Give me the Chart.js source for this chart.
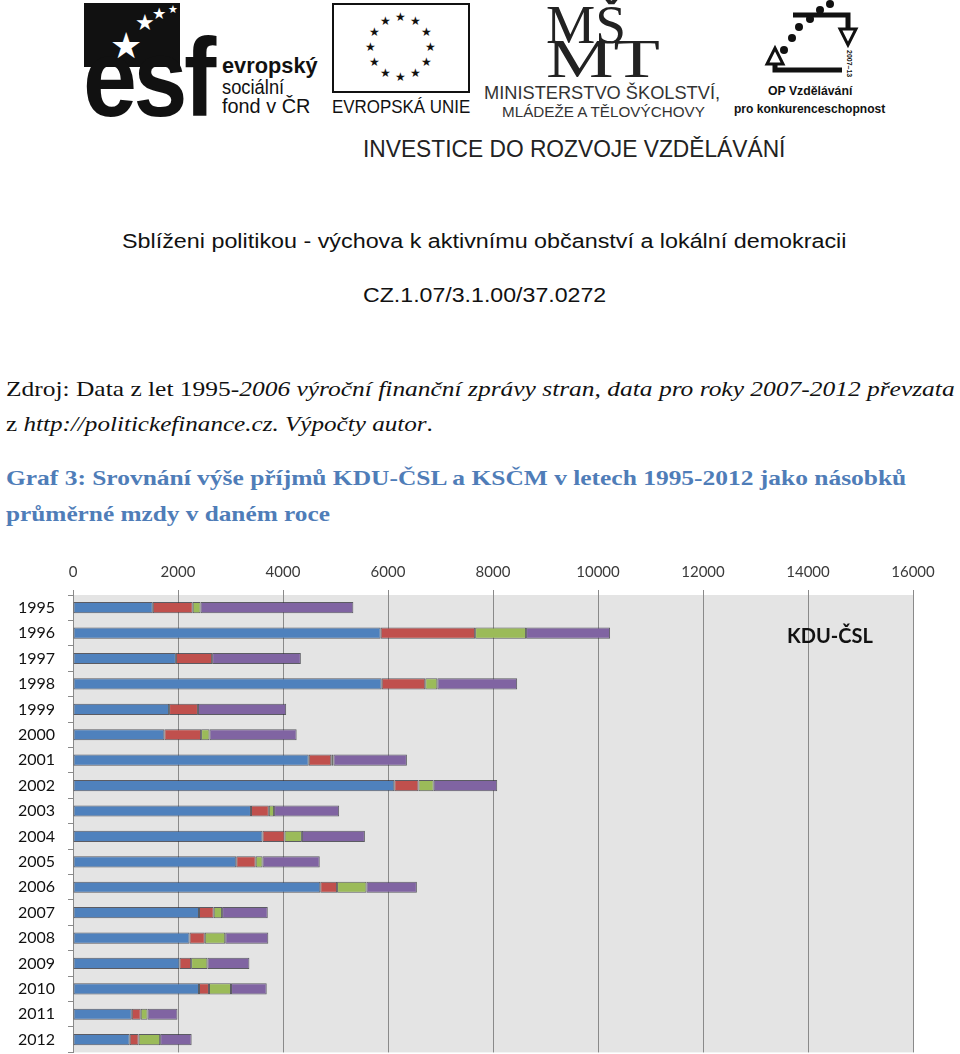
<!DOCTYPE html>
<html>
<head>
<meta charset="utf-8">
<script src="https://cdn.jsdelivr.net/npm/chart.js@4"></script>
<style>
  body { margin: 0; background: #fff; width: 960px; height: 1054px; position: relative; overflow: hidden; }
  .t { position: absolute; white-space: nowrap; display: inline-block; transform-origin: left top; line-height: 1; }
  .sans { font-family: "Liberation Sans", Arial, sans-serif; }
  .serif { font-family: "Liberation Serif", "Times New Roman", serif; }
  .blk { position: absolute; background: #111; }
  #chartBox { position: absolute; left: 0; top: 555px; width: 960px; height: 520px; }
  #kdu { position: absolute; left: 787px; top: 623px; font: bold 20px Lato, sans-serif; color: #111; }
</style>
</head>
<body>

<!-- header logos (rough) -->
<div class="blk" style="left:84px;top:3px;width:96px;height:64px"></div>
<div class="t sans" data-w="130" style="left:83px;top:22px;font-size:112px;font-weight:bold;color:#111;letter-spacing:-4px">esf</div>
<div class="t" style="left:110px;top:28px;font-size:36px;color:#fff">★</div>
<div class="t" style="left:135px;top:12px;font-size:22px;color:#fff">★</div>
<div class="t" style="left:152px;top:6px;font-size:16px;color:#fff">★</div>
<div class="t" style="left:168px;top:4px;font-size:11px;color:#fff">★</div>
<div class="t sans" data-w="96" style="left:222px;top:55px;font-size:22px;font-weight:bold;color:#111">evropský</div>
<div class="t sans" data-w="62" style="left:222px;top:76px;font-size:21px;color:#111">sociální</div>
<div class="t sans" data-w="88" style="left:222px;top:95px;font-size:21px;color:#111">fond v ČR</div>

<div style="position:absolute;left:332px;top:3px;width:134px;height:86px;border:2px solid #111"></div>
<div id="euStars"></div>
<div class="t sans" data-w="138" style="left:332px;top:97px;font-size:19px;color:#111">EVROPSKÁ UNIE</div>

<div class="t serif" data-w="80" style="left:546px;top:-2px;font-size:54px;color:#222">MŠ</div>
<div class="t serif" data-w="114" style="left:546px;top:32px;font-size:54px;color:#222">MT</div>
<div class="t sans" data-w="236" style="left:484px;top:84px;font-size:18px;color:#333">MINISTERSTVO ŠKOLSTVÍ,</div>
<div class="t sans" data-w="203" style="left:502px;top:104px;font-size:15px;color:#333">MLÁDEŽE A TĚLOVÝCHOVY</div>

<svg style="position:absolute;left:760px;top:0" width="110" height="85">
  <polyline points="33,15 88,15 88,28" fill="none" stroke="#111" stroke-width="5"/>
  <polygon points="80,29 96,29 88,45" fill="#fff" stroke="#111" stroke-width="3"/>
  <polyline points="15,64 15,70 82,70" fill="none" stroke="#111" stroke-width="5"/>
  <polygon points="7,64 23,64 15,48" fill="#fff" stroke="#111" stroke-width="3"/>
  <circle cx="70" cy="4" r="4" fill="#111"/>
  <circle cx="60" cy="10" r="4" fill="#111"/>
  <circle cx="50" cy="19" r="4" fill="#111"/>
  <circle cx="39" cy="27" r="4" fill="#111"/>
  <circle cx="32" cy="38" r="4" fill="#111"/>
  <circle cx="24" cy="50" r="4" fill="#111"/>
  <text x="0" y="0" transform="translate(87,50) rotate(90)" font-family="Liberation Sans" font-size="7" font-weight="bold" fill="#111">2007–13</text>
</svg>
<div class="t sans" data-w="84" style="left:768px;top:84px;font-size:13px;font-weight:bold;color:#111">OP Vzdělávání</div>
<div class="t sans" data-w="151" style="left:734px;top:102px;font-size:13px;font-weight:bold;color:#111">pro konkurenceschopnost</div>

<div class="t sans" data-w="422" style="left:363px;top:137px;font-size:24px;color:#222">INVESTICE DO ROZVOJE VZDĚLÁVÁNÍ</div>

<!-- texts -->
<div class="t sans" data-w="724" style="left:122px;top:231px;font-size:20px;color:#111">Sblíženi politikou - výchova k aktivnímu občanství a lokální demokracii</div>
<div class="t sans" data-w="243" style="left:363px;top:285px;font-size:20px;color:#111">CZ.1.07/3.1.00/37.0272</div>

<div class="t serif" data-w="949" style="left:6px;top:379px;font-size:21px;color:#111">Zdroj: Data z let 1995-<i>2006 výroční finanční zprávy stran, data pro roky 2007-2012 převzata</i></div>
<div class="t serif" data-w="427" style="left:6px;top:414px;font-size:21px;color:#111">z <i>http://politickefinance.cz. Výpočty autor</i>.</div>

<div class="t serif" data-w="900" style="left:6px;top:467px;font-size:22px;font-weight:bold;color:#4f7db8">Graf 3: Srovnání výše příjmů KDU-ČSL a KSČM v letech 1995-2012 jako násobků</div>
<div class="t serif" data-w="324" style="left:6px;top:503px;font-size:22px;font-weight:bold;color:#4f7db8">průměrné mzdy v daném roce</div>

<div id="chartBox"><canvas id="barChart" width="960" height="520"></canvas></div>
<div id="kdu">KDU-ČSL</div>

<script>
var years = ["1995", "1996", "1997", "1998", "1999", "2000", "2001", "2002", "2003",
             "2004", "2005", "2006", "2007", "2008", "2009", "2010", "2011", "2012"];
var blueVals = [1520, 5860, 1960, 5880, 1830, 1740, 4490, 6120, 3390, 3610, 3110, 4710, 2400, 2220, 2030, 2400, 1120, 1080];
var redVals = [760, 1800, 690, 830, 550, 700, 430, 460, 340, 420, 370, 320, 280, 290, 220, 190, 170, 170];
var greenVals = [150, 970, 0, 230, 0, 160, 40, 290, 100, 330, 130, 560, 160, 390, 310, 420, 130, 410];
var purpleVals = [2910, 1600, 1690, 1520, 1680, 1660, 1400, 1210, 1240, 1200, 1090, 960, 870, 820, 800, 680, 570, 600];
var xTicks = [0, 2000, 4000, 6000, 8000, 10000, 12000, 14000, 16000];

// EU stars
var euBox = document.getElementById("euStars");
for (var i = 0; i < 12; i++) {
  var a = i * Math.PI / 6;
  var s = document.createElement("div");
  s.className = "t";
  s.textContent = "★";
  s.style.fontSize = "12px";
  s.style.color = "#111";
  s.style.left = (401 + 30 * Math.sin(a) - 6) + "px";
  s.style.top = (47 - 30 * Math.cos(a) - 6) + "px";
  euBox.appendChild(s);
}

function fitTexts() {
  document.querySelectorAll("[data-w]").forEach(function(el) {
    var w = parseFloat(el.getAttribute("data-w"));
    var nat = el.scrollWidth;
    if (nat > 0) el.style.transform = "scaleX(" + (w / nat) + ")";
  });
}

var plotBg = {
  id: "plotBg",
  beforeDraw: function(chart) {
    var a = chart.chartArea, ctx = chart.ctx;
    ctx.save();
    ctx.fillStyle = "#e4e4e4";
    ctx.fillRect(a.left, a.top, a.right - a.left, a.bottom - a.top);
    ctx.restore();
  }
};

function makeSet(label, vals, color) {
  return {
    label: label,
    data: vals,
    backgroundColor: color,
    borderColor: "rgba(45,45,55,0.75)",
    borderWidth: 1,
    borderSkipped: false,
    barPercentage: 0.44,
    categoryPercentage: 1
  };
}

function drawChart() {
  var ctx = document.getElementById("barChart").getContext("2d");
  new Chart(ctx, {
    type: "bar",
    data: {
      labels: years,
      datasets: [
        makeSet("Řada 1", blueVals, "#4f81bd"),
        makeSet("Řada 2", redVals, "#c0504d"),
        makeSet("Řada 3", greenVals, "#9bbb59"),
        makeSet("Řada 4", purpleVals, "#8064a2")
      ]
    },
    options: {
      indexAxis: "y",
      responsive: false,
      animation: false,
      layout: { padding: { left: 0, right: 47, top: 0, bottom: 0 } },
      plugins: { legend: { display: false }, tooltip: { enabled: false } },
      scales: {
        x: {
          position: "top",
          stacked: true,
          min: 0,
          max: 16000,
          afterBuildTicks: function(s) { s.ticks = xTicks.map(function(v) { return { value: v }; }); },
          afterFit: function(s) { s.height = 40; },
          ticks: {
            font: { family: "Lato", size: 15 }, color: "#3a3a3a", padding: 9,
            callback: function(v) { return String(v); }
          },
          grid: { color: "#8a8a8a", lineWidth: 1, tickLength: 5 },
          border: { display: false }
        },
        y: {
          stacked: true,
          afterFit: function(s) { s.width = 73; },
          ticks: { font: { family: "Lato", size: 16 }, color: "#111", padding: 13 },
          grid: { drawOnChartArea: false, color: "#8a8a8a", tickLength: 5, offset: true },
          border: { color: "#8a8a8a" }
        }
      }
    },
    plugins: [plotBg]
  });
}

document.fonts.ready.then(function() {
  fitTexts();
  drawChart();
});
</script>
</body>
</html>
